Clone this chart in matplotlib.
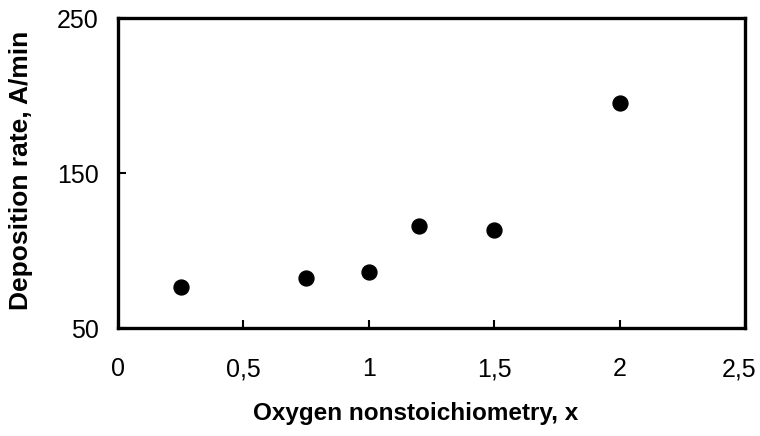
import matplotlib.pyplot as plt
import matplotlib.transforms as mtransforms
from matplotlib.ticker import FuncFormatter

# data
oxygen_x = [0.25, 0.75, 1.0, 1.2, 1.5, 2.0]
dep_rate = [76.5, 82, 86, 116, 113, 195]

x_ticks = [0, 0.5, 1, 1.5, 2, 2.5]
y_ticks = [50, 150, 250]

plt.rcParams['font.family'] = ['Liberation Sans', 'DejaVu Sans']

fig = plt.figure(figsize=(7.6, 4.36), dpi=100)
ax = fig.add_axes([118 / 760, 1 - 328 / 436, (745 - 118) / 760, (328 - 18) / 436])

ax.scatter(oxygen_x, dep_rate, s=115, color='black', zorder=3, clip_on=False)

ax.set_xlim(0, 2.5)
ax.set_ylim(50, 250)
ax.set_xticks(x_ticks)
ax.set_yticks(y_ticks)
ax.xaxis.set_major_formatter(FuncFormatter(lambda v, p: ('%g' % v).replace('.', ',')))

for s in ax.spines.values():
    s.set_linewidth(2.4)

ax.tick_params(direction='in', length=6, width=1.5, labelsize=18)
ax.tick_params(axis='x', pad=21)
ax.tick_params(axis='y', pad=14)

# last x label sits a bit left of its tick so it stays inside the figure
last = ax.get_xticklabels()[-1]
last.set_transform(last.get_transform() + mtransforms.ScaledTranslation(-0.06, 0, fig.dpi_scale_trans))

ax.set_xlabel('Oxygen nonstoichiometry, x', fontsize=17.5, fontweight='bold')
ax.set_ylabel('Deposition rate, A/min', fontsize=19, fontweight='bold')
ax.xaxis.set_label_coords(0.474, -0.24)
ax.yaxis.set_label_coords(-0.135, 0.51)

fig.savefig('out.png', dpi=100)
